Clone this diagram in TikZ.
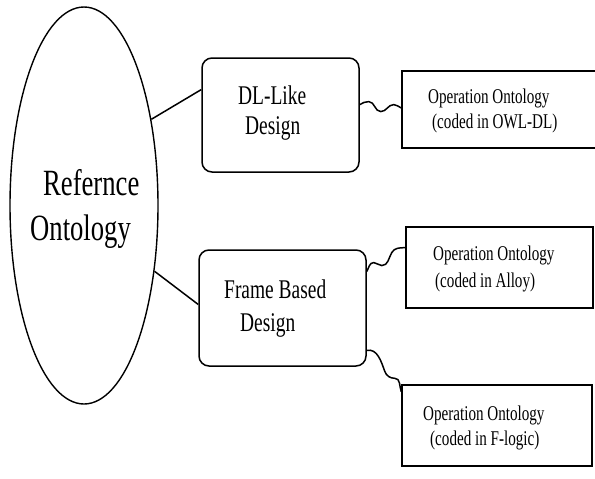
\documentclass[tikz,border=0pt]{standalone}
\usepackage{fontspec}
\usetikzlibrary{calc,shapes.geometric}
\newfontfamily\cond[FakeStretch=0.72]{Liberation Serif}
\tikzset{
  x=1pt,y=1pt,
  box/.style={draw,line width=1.5pt,rounded corners=10pt,inner sep=0pt},
  opbox/.style={draw,line width=1.5pt,inner sep=0pt},
  lbl/.style={anchor=base west,inner sep=0pt},
  big/.style={lbl,font=\cond\fontsize{37}{44}\selectfont},
  mid/.style={lbl,font=\cond\fontsize{27}{32}\selectfont},
  small/.style={lbl,font=\cond\fontsize{21}{25}\selectfont},
  conn/.style={line width=1.5pt}
}
\begin{document}
\begin{tikzpicture}
\useasboundingbox (0,0) rectangle (595,-479);
% ellipse
\node[draw,ellipse,line width=1.4pt,minimum width=148,minimum height=397,inner sep=0pt] (ref) at (84,-205.5) {};
\node[big] (t1) at (43,-195) {Refernce};
\node[big] (t2) at (30,-240) {Ontology};
% design boxes
\node[box,minimum width=157,minimum height=114] (dl) at (280.5,-115) {};
\node[mid] (t3) at (238,-104) {DL-Like};
\node[mid] (t4) at (245,-134) {Design};
\node[box,minimum width=167,minimum height=116] (fr) at (282.5,-308) {};
\node[mid] (t5) at (224,-298) {Frame Based};
\node[mid] (t6) at (240,-331) {Design};
% operation ontology boxes
\node[opbox,minimum width=198,minimum height=77] (owl) at (501,-109.5) {};
\node[small] (t7) at (428,-103) {Operation Ontology};
\node[small] (t8) at (432,-128) {(coded in OWL-DL)};
\node[opbox,minimum width=187,minimum height=81] (alloy) at (499.5,-267.5) {};
\node[small] (t9) at (433,-260) {Operation Ontology};
\node[small] (t10) at (435,-287) {(coded in Alloy)};
\node[opbox,minimum width=190,minimum height=81] (flog) at (497,-425.5) {};
\node[small] (t11) at (423,-420) {Operation Ontology};
\node[small] (t12) at (430,-445) {(coded in F-logic)};
% straight connectors
\draw[conn] (ref.52.5) -- ($(dl.north west)!0.28!(dl.south west)$);
\draw[conn] (ref.-43.5) -- ($(fr.north west)!0.47!(fr.south west)$);
% wavy connectors
\coordinate (w1s) at ($(dl.north east)!0.41!(dl.south east)$);
\coordinate (w1e) at ($(owl.north west)!0.48!(owl.south west)$);
\draw[conn] (w1s) to[out=30,in=180] ($(w1s)+(9,3)$) to[out=0,in=180] ($(w1s)+(21,-7)$)
  to[out=0,in=180] ($(w1s)+(34,0)$) to[out=0,in=160] (w1e);
\coordinate (w2s) at ($(fr.north east)!0.19!(fr.south east)$);
\coordinate (w2e) at ($(alloy.north west)!0.26!(alloy.south west)$);
\draw[conn] (w2s) to[out=60,in=180] ($(w2s)+(7,9)$) to[out=0,in=180] ($(w2s)+(15,6)$)
  to[out=0,in=240] ($(w2s)+(25,19)$) to[out=60,in=180] (w2e);
\coordinate (w3s) at ($(fr.north east)!0.86!(fr.south east)$);
\coordinate (w3e) at ($(flog.north west)!0.09!(flog.south west)$);
\draw[conn] (w3s) to[out=10,in=110] ($(w3s)+(18,-21)$) to[out=-70,in=180] ($(w3s)+(28,-28)$)
  to[out=0,in=110] (w3e);
\end{tikzpicture}
\end{document}
